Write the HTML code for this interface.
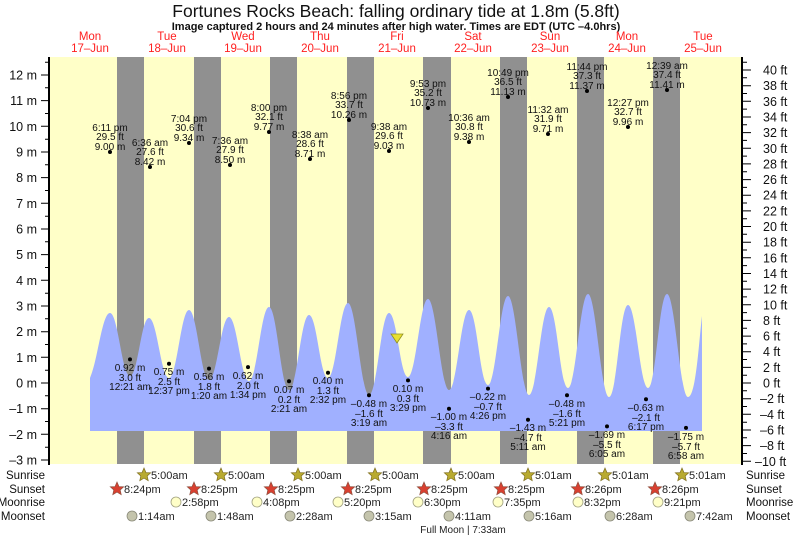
<!DOCTYPE html>
<html><head><meta charset="utf-8"><style>
html,body{margin:0;padding:0;background:#fff;}
svg{display:block;font-family:"Liberation Sans",Arial,sans-serif;}
.hl text,.lw text{font-size:10px;text-anchor:middle;fill:#111;}
.ax{font-size:12.5px;fill:#111;}
.bl{font-size:11.5px;fill:#111;}
.rw{font-size:11px;fill:#222;}
.dl{font-size:11.5px;fill:#ff2020;text-anchor:middle;}
</style></head><body>
<svg width="793" height="537" viewBox="0 0 793 537" xmlns="http://www.w3.org/2000/svg">
<defs>
<polygon id="st" points="0,-7 2,-2.4 6.7,-2.2 3.2,1 4.2,5.7 0,3.1 -4.2,5.7 -3.2,1 -6.7,-2.2 -2,-2.4"/>
</defs>
<text x="396" y="17" font-size="17.5" text-anchor="middle" fill="#111">Fortunes Rocks Beach: falling  ordinary tide at 1.8m (5.8ft)</text>
<text x="396" y="30" font-size="11" font-weight="bold" text-anchor="middle" fill="#111">Image captured 2 hours and 24 minutes after high water. Times are EDT (UTC –4.0hrs)</text>
<g class="dl">
<text x="90" y="40">Mon</text><text x="90" y="52">17–Jun</text>
<text x="167" y="40">Tue</text><text x="167" y="52">18–Jun</text>
<text x="243" y="40">Wed</text><text x="243" y="52">19–Jun</text>
<text x="320" y="40">Thu</text><text x="320" y="52">20–Jun</text>
<text x="397" y="40">Fri</text><text x="397" y="52">21–Jun</text>
<text x="473" y="40">Sat</text><text x="473" y="52">22–Jun</text>
<text x="550" y="40">Sun</text><text x="550" y="52">23–Jun</text>
<text x="627" y="40">Mon</text><text x="627" y="52">24–Jun</text>
<text x="703" y="40">Tue</text><text x="703" y="52">25–Jun</text>
</g>
<rect x="50" y="57" width="692" height="407" fill="#ffffc8"/>
<g fill="#909090">
<rect x="117" y="57" width="27" height="407"/><rect x="194" y="57" width="27" height="407"/>
<rect x="270" y="57" width="27" height="407"/><rect x="347" y="57" width="27" height="407"/>
<rect x="423" y="57" width="28" height="407"/><rect x="500" y="57" width="27" height="407"/>
<rect x="577" y="57" width="27" height="407"/><rect x="653" y="57" width="27" height="407"/>
</g>
<path fill="#a0b0ff" d="M90,431 L90,378 C98,360 102,313 110,313 C118,313 122,376 130,376 C138,376 141,318 149,318 C157,318 161,378 169,378 C177,378 181,310 189,310 C197,310 201,380 209,380 C217,380 221,317 229,317 C237,317 241,381 249,381 C257,381 261,307 269,307 C277,307 281,390 289,390 C297,390 301,315 309,315 C317,315 320,378 328,378 C336,378 340,303 348,303 C356,303 361,395 369,395 C377,395 381,313 389,313 C397,313 400,377 408,377 C416,377 420,299 428,299 C436,299 441,390 449,390 C457,390 461,310 469,310 C477,310 480,385 488,385 C496,385 500,296 508,296 C516,296 521,395 529,395 C537,395 541,307 549,307 C557,307 560,388 568,388 C576,388 580,294 588,294 C596,294 601,397 609,397 C617,397 620,305 628,305 C636,305 640,388 648,388 C656,388 659,294 667,294 C675,294 680,397 688,397 C696,397 699,340 702,316 L702,431 Z"/>
<polygon points="391,334 403,334 397,343" fill="#e8e030" stroke="#909020" stroke-width="0.8"/>
<line x1="49" y1="57" x2="49" y2="465" stroke="#000" stroke-width="2"/>
<line x1="742" y1="57" x2="742" y2="465" stroke="#000" stroke-width="2"/>
<path stroke="#000" stroke-width="1" d="M41,460H49M41,434.3H49M41,408.7H49M41,383H49M41,357.3H49M41,331.7H49M41,306H49M41,280.3H49M41,254.6H49M41,229H49M41,203.3H49M41,177.6H49M41,152H49M41,126.3H49M41,100.6H49M41,75H49
M45,447.2H49M45,421.5H49M45,395.8H49M45,370.2H49M45,344.5H49M45,318.8H49M45,293.2H49M45,267.5H49M45,241.8H49M45,216.2H49M45,190.5H49M45,164.8H49M45,139.2H49M45,113.5H49M45,87.8H49M45,62.2H49"/>
<path stroke="#000" stroke-width="1" d="M742,461.3H751M742,445.6H751M742,430H751M742,414.3H751M742,398.7H751M742,383H751M742,367.4H751M742,351.7H751M742,336.1H751M742,320.4H751M742,304.8H751M742,289.1H751M742,273.5H751M742,257.8H751M742,242.2H751M742,226.5H751M742,210.9H751M742,195.2H751M742,179.6H751M742,163.9H751M742,148.3H751M742,132.6H751M742,117H751M742,101.3H751M742,85.7H751M742,70H751
M742,453.5H747M742,437.8H747M742,422.2H747M742,406.5H747M742,390.8H747M742,375.2H747M742,359.5H747M742,343.9H747M742,328.2H747M742,312.6H747M742,296.9H747M742,281.3H747M742,265.6H747M742,250H747M742,234.3H747M742,218.7H747M742,203H747M742,187.4H747M742,171.7H747M742,156.1H747M742,140.4H747M742,124.8H747M742,109.1H747M742,93.5H747M742,77.8H747M742,62.2H747"/>
<g class="ax" text-anchor="end">
<text x="37" y="464.5">–3 m</text><text x="37" y="438.8">–2 m</text><text x="37" y="413.2">–1 m</text><text x="37" y="387.5">0 m</text><text x="37" y="361.8">1 m</text><text x="37" y="336.2">2 m</text><text x="37" y="310.5">3 m</text><text x="37" y="284.8">4 m</text><text x="37" y="259.1">5 m</text><text x="37" y="233.5">6 m</text><text x="37" y="207.8">7 m</text><text x="37" y="182.1">8 m</text><text x="37" y="156.5">9 m</text><text x="37" y="130.8">10 m</text><text x="37" y="105.1">11 m</text><text x="37" y="79.5">12 m</text>
</g>
<g class="ax">
<text x="755" y="465.8">–10 ft</text><text x="760" y="450.1">–8 ft</text><text x="760" y="434.5">–6 ft</text><text x="760" y="418.8">–4 ft</text><text x="760" y="403.2">–2 ft</text><text x="763" y="387.5">0 ft</text><text x="763" y="371.9">2 ft</text><text x="763" y="356.2">4 ft</text><text x="763" y="340.6">6 ft</text><text x="763" y="324.9">8 ft</text><text x="763" y="309.3">10 ft</text><text x="763" y="293.6">12 ft</text><text x="763" y="278">14 ft</text><text x="763" y="262.3">16 ft</text><text x="763" y="246.7">18 ft</text><text x="763" y="231">20 ft</text><text x="763" y="215.4">22 ft</text><text x="763" y="199.7">24 ft</text><text x="763" y="184.1">26 ft</text><text x="763" y="168.4">28 ft</text><text x="763" y="152.8">30 ft</text><text x="763" y="137.1">32 ft</text><text x="763" y="121.5">34 ft</text><text x="763" y="105.8">36 ft</text><text x="763" y="90.2">38 ft</text><text x="763" y="74.5">40 ft</text>
</g>
<g class="hl">
<circle cx="110" cy="152" r="2"/><text x="110" y="131">6:11 pm</text><text x="110" y="140">29.5 ft</text><text x="110" y="150">9.00 m</text>
<circle cx="150" cy="167" r="2"/><text x="150" y="146">6:36 am</text><text x="150" y="155">27.6 ft</text><text x="150" y="165">8.42 m</text>
<circle cx="189" cy="143" r="2"/><text x="189" y="122">7:04 pm</text><text x="189" y="131">30.6 ft</text><text x="189" y="141">9.34 m</text>
<circle cx="230" cy="165" r="2"/><text x="230" y="144">7:36 am</text><text x="230" y="153">27.9 ft</text><text x="230" y="163">8.50 m</text>
<circle cx="269" cy="132" r="2"/><text x="269" y="111">8:00 pm</text><text x="269" y="120">32.1 ft</text><text x="269" y="130">9.77 m</text>
<circle cx="310" cy="159" r="2"/><text x="310" y="138">8:38 am</text><text x="310" y="147">28.6 ft</text><text x="310" y="157">8.71 m</text>
<circle cx="349" cy="120" r="2"/><text x="349" y="99">8:56 pm</text><text x="349" y="108">33.7 ft</text><text x="349" y="118">10.26 m</text>
<circle cx="389" cy="151" r="2"/><text x="389" y="130">9:38 am</text><text x="389" y="139">29.6 ft</text><text x="389" y="149">9.03 m</text>
<circle cx="428" cy="108" r="2"/><text x="428" y="87">9:53 pm</text><text x="428" y="96">35.2 ft</text><text x="428" y="106">10.73 m</text>
<circle cx="469" cy="142" r="2"/><text x="469" y="121">10:36 am</text><text x="469" y="130">30.8 ft</text><text x="469" y="140">9.38 m</text>
<circle cx="508" cy="97" r="2"/><text x="508" y="76">10:49 pm</text><text x="508" y="85">36.5 ft</text><text x="508" y="95">11.13 m</text>
<circle cx="548" cy="134" r="2"/><text x="548" y="113">11:32 am</text><text x="548" y="122">31.9 ft</text><text x="548" y="132">9.71 m</text>
<circle cx="587" cy="91" r="2"/><text x="587" y="70">11:44 pm</text><text x="587" y="79">37.3 ft</text><text x="587" y="89">11.37 m</text>
<circle cx="628" cy="127" r="2"/><text x="628" y="106">12:27 pm</text><text x="628" y="115">32.7 ft</text><text x="628" y="125">9.96 m</text>
<circle cx="667" cy="90" r="2"/><text x="667" y="69">12:39 am</text><text x="667" y="78">37.4 ft</text><text x="667" y="88">11.41 m</text>
</g>
<g class="lw">
<circle cx="130" cy="359.4" r="2"/><text x="130" y="371">0.92 m</text><text x="130" y="381">3.0 ft</text><text x="130" y="390">12:21 am</text>
<circle cx="169" cy="363.7" r="2"/><text x="169" y="375">0.75 m</text><text x="169" y="385">2.5 ft</text><text x="169" y="394">12:37 pm</text>
<circle cx="209" cy="368.6" r="2"/><text x="209" y="380">0.56 m</text><text x="209" y="390">1.8 ft</text><text x="209" y="399">1:20 am</text>
<circle cx="248" cy="367.1" r="2"/><text x="248" y="379">0.62 m</text><text x="248" y="389">2.0 ft</text><text x="248" y="398">1:34 pm</text>
<circle cx="289" cy="381.2" r="2"/><text x="289" y="393">0.07 m</text><text x="289" y="403">0.2 ft</text><text x="289" y="412">2:21 am</text>
<circle cx="328" cy="372.7" r="2"/><text x="328" y="384">0.40 m</text><text x="328" y="394">1.3 ft</text><text x="328" y="403">2:32 pm</text>
<circle cx="369" cy="395.3" r="2"/><text x="369" y="407">–0.48 m</text><text x="369" y="417">–1.6 ft</text><text x="369" y="426">3:19 am</text>
<circle cx="408" cy="380.4" r="2"/><text x="408" y="392">0.10 m</text><text x="408" y="402">0.3 ft</text><text x="408" y="411">3:29 pm</text>
<circle cx="449" cy="408.7" r="2"/><text x="449" y="420">–1.00 m</text><text x="449" y="430">–3.3 ft</text><text x="449" y="439">4:16 am</text>
<circle cx="488" cy="388.6" r="2"/><text x="488" y="400">–0.22 m</text><text x="488" y="410">–0.7 ft</text><text x="488" y="419">4:26 pm</text>
<circle cx="528" cy="419.7" r="2"/><text x="528" y="431">–1.43 m</text><text x="528" y="441">–4.7 ft</text><text x="528" y="450">5:11 am</text>
<circle cx="567" cy="395.3" r="2"/><text x="567" y="407">–0.48 m</text><text x="567" y="417">–1.6 ft</text><text x="567" y="426">5:21 pm</text>
<circle cx="607" cy="426.4" r="2"/><text x="607" y="438">–1.69 m</text><text x="607" y="448">–5.5 ft</text><text x="607" y="457">6:05 am</text>
<circle cx="646" cy="399.2" r="2"/><text x="646" y="411">–0.63 m</text><text x="646" y="421">–2.1 ft</text><text x="646" y="430">6:17 pm</text>
<circle cx="686" cy="427.9" r="2"/><text x="686" y="440">–1.75 m</text><text x="686" y="450">–5.7 ft</text><text x="686" y="459">6:58 am</text>
</g>
<g class="bl" text-anchor="end">
<text x="45" y="479">Sunrise</text><text x="45" y="493">Sunset</text><text x="45" y="506">Moonrise</text><text x="45" y="520">Moonset</text>
</g>
<g class="bl">
<text x="746" y="479">Sunrise</text><text x="746" y="493">Sunset</text><text x="746" y="506">Moonrise</text><text x="746" y="520">Moonset</text>
</g>
<g fill="#b8aa30" stroke="#807020" stroke-width="0.7">
<use href="#st" x="144" y="475"/><use href="#st" x="221" y="475"/><use href="#st" x="298" y="475"/><use href="#st" x="375" y="475"/><use href="#st" x="451" y="475"/><use href="#st" x="528" y="475"/><use href="#st" x="605" y="475"/><use href="#st" x="682" y="475"/>
</g>
<g fill="#d84030" stroke="#905040" stroke-width="0.7">
<use href="#st" x="117" y="489"/><use href="#st" x="194" y="489"/><use href="#st" x="271" y="489"/><use href="#st" x="348" y="489"/><use href="#st" x="424" y="489"/><use href="#st" x="501" y="489"/><use href="#st" x="578" y="489"/><use href="#st" x="655" y="489"/>
</g>
<g fill="#ffffc8" stroke="#a0a080" stroke-width="0.8">
<circle cx="176" cy="502" r="5"/><circle cx="257" cy="502" r="5"/><circle cx="338" cy="502" r="5"/><circle cx="418" cy="502" r="5"/><circle cx="498" cy="502" r="5"/><circle cx="578" cy="502" r="5"/><circle cx="658" cy="502" r="5"/>
</g>
<g fill="#c4c4ac" stroke="#888878" stroke-width="0.8">
<circle cx="132" cy="516" r="5"/><circle cx="211" cy="516" r="5"/><circle cx="290" cy="516" r="5"/><circle cx="369" cy="516" r="5"/><circle cx="449" cy="516" r="5"/><circle cx="529" cy="516" r="5"/><circle cx="610" cy="516" r="5"/><circle cx="690" cy="516" r="5"/>
</g>
<g class="rw">
<text x="151" y="479">5:00am</text><text x="228" y="479">5:00am</text><text x="305" y="479">5:00am</text><text x="382" y="479">5:00am</text><text x="458" y="479">5:00am</text><text x="535" y="479">5:01am</text><text x="612" y="479">5:01am</text><text x="689" y="479">5:01am</text>
<text x="124" y="493">8:24pm</text><text x="201" y="493">8:25pm</text><text x="278" y="493">8:25pm</text><text x="355" y="493">8:25pm</text><text x="431" y="493">8:25pm</text><text x="508" y="493">8:25pm</text><text x="585" y="493">8:26pm</text><text x="662" y="493">8:26pm</text>
<text x="182" y="506">2:58pm</text><text x="263" y="506">4:08pm</text><text x="344" y="506">5:20pm</text><text x="424" y="506">6:30pm</text><text x="504" y="506">7:35pm</text><text x="584" y="506">8:32pm</text><text x="664" y="506">9:21pm</text>
<text x="138" y="520">1:14am</text><text x="217" y="520">1:48am</text><text x="296" y="520">2:28am</text><text x="375" y="520">3:15am</text><text x="455" y="520">4:11am</text><text x="535" y="520">5:16am</text><text x="616" y="520">6:28am</text><text x="696" y="520">7:42am</text>
</g>
<text x="463" y="533" font-size="10" text-anchor="middle" fill="#222">Full Moon | 7:33am</text>
</svg>
</body></html>
